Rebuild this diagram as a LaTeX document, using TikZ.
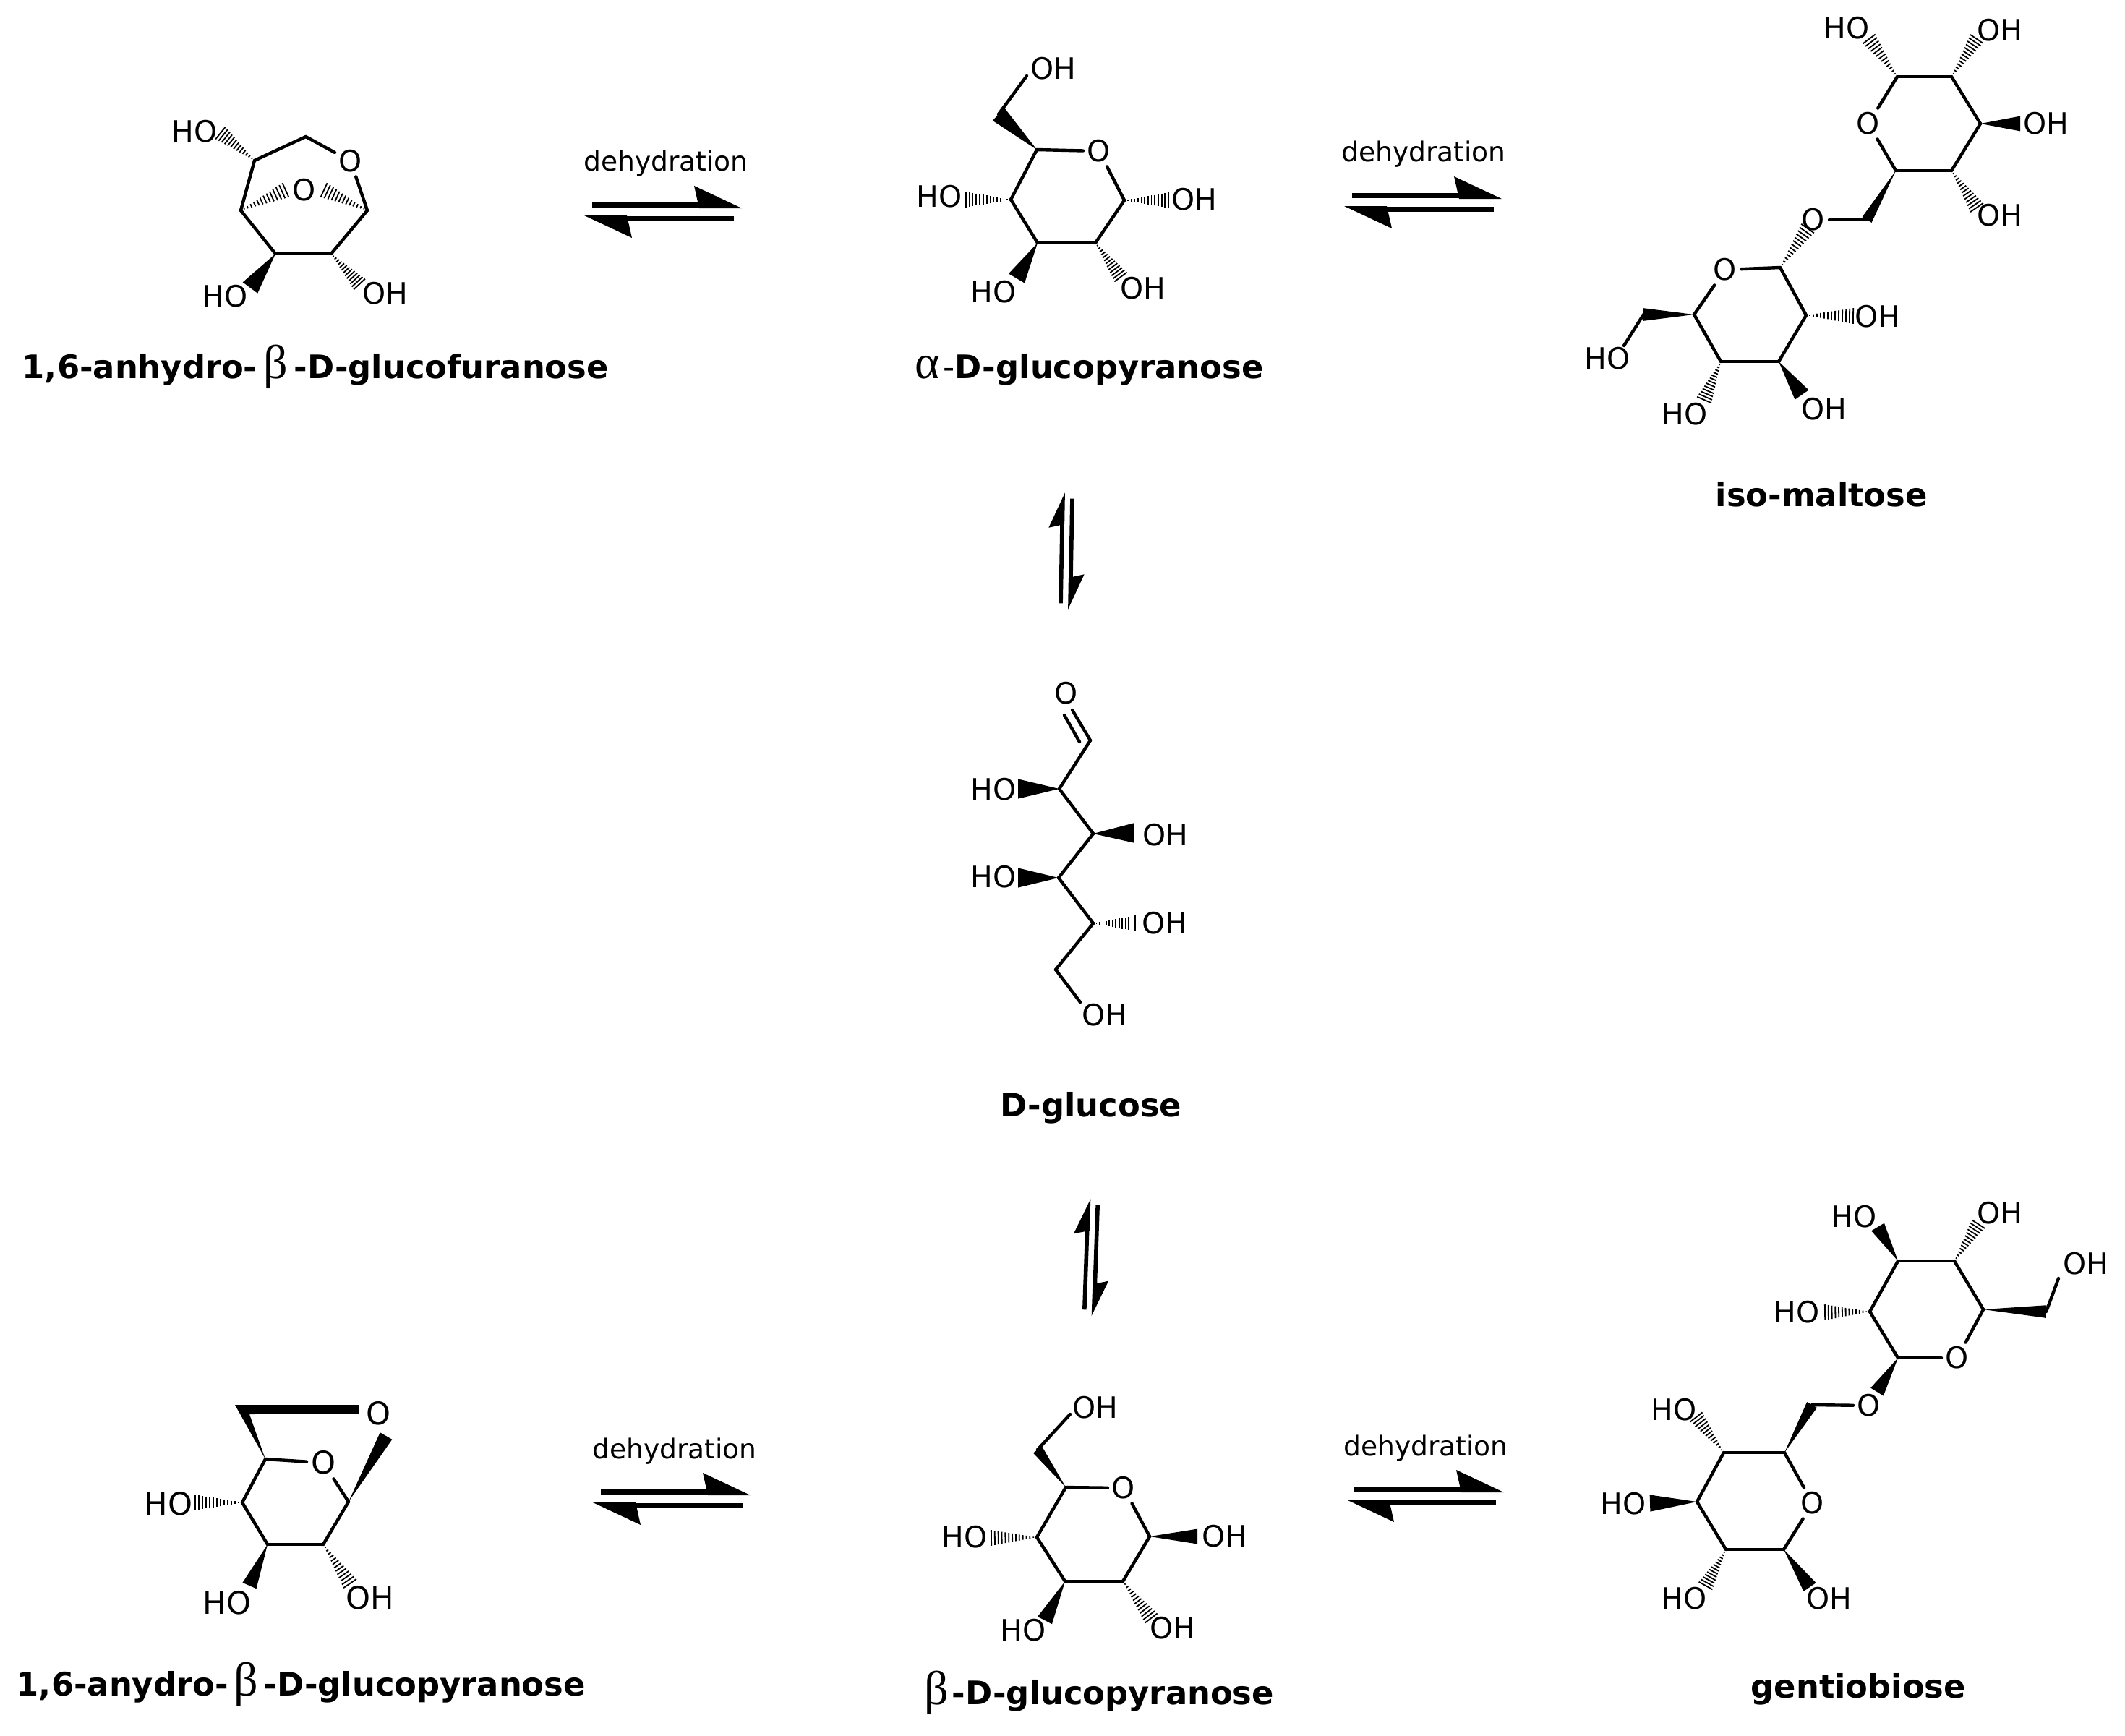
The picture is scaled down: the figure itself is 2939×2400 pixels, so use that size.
\documentclass[tikz,border=0pt]{standalone}
\usepackage{fontspec}
\setmainfont{DejaVu Sans}
\newfontfamily\greekfont{Liberation Serif}
\usetikzlibrary{calc}

\tikzset{
    atom/.style={inner sep=1.3pt, font=\fontsize{10.2}{12}\selectfont},
    bigatom/.style={atom, font=\fontsize{10.8}{12}\selectfont},
    bond/.style={line width=1.1pt, line cap=round},
    hashline/.style={line width=0.45pt},
    compound/.style={anchor=base west, inner sep=0pt, font=\fontsize{11.2}{13}\selectfont\bfseries},
    step label/.style={anchor=base, inner sep=0pt, font=\fontsize{9.4}{11}\selectfont},
    pics/eqarrow/.style={code={
        \coordinate (-ra) at (-98,-9.5);
        \coordinate (-rb) at (52,-9.5);
        \coordinate (-la) at (98,9.5);
        \coordinate (-lb) at (-52,9.5);
        \draw[line width=#1] (-ra) -- (-rb);
        \draw[line width=#1] (-la) -- (-lb);
        \fill (43,-36) -- (50,-5) -- (109,-5) -- cycle;
        \fill (-43,36) -- (-50,5) -- (-109,5) -- cycle;
    }},
    pics/eqarrow/.default=1.7pt,
}

% solid and hashed stereo bonds: [half width at the far end]{from}{to}
\newcommand{\wedgebond}[3][2.6pt]{\fill ($(#3)!#1!90:(#2)$) -- (#2) -- ($(#3)!#1!-90:(#2)$) -- cycle;}
\newcommand{\hashbond}[3][2.7]{%
    \foreach \t in {1,...,13} {
        \pgfmathsetmacro\hw{#1*\t/13}
        \coordinate (hm) at ($(#2)!\t/13!(#3)$);
        \draw[hashline] ($(hm)!\hw pt!90:(#2)$) -- ($(hm)!\hw pt!-90:(#2)$);
    }}
\newcommand{\greekmark}[2]{\makebox[#1][c]{\mdseries\greekfont\fontsize{16.5}{16}\selectfont #2}}

\begin{document}
\begin{tikzpicture}[x=0.25pt, y=-0.25pt]
    \useasboundingbox (0,0) rectangle (2939,2400);

    % 1,6-anhydro furanose
    \coordinate (fa1) at (508,291);
    \coordinate (fa2) at (458,351);
    \coordinate (fa3) at (381,351);
    \coordinate (fa4) at (333,291);
    \coordinate (fa5) at (352,222);
    \coordinate (fa6) at (423,189);
    \draw node[atom] (faor) at (485,223) {O};
    \draw node[atom] (faob) at (421,263) {O};
    \draw node[atom] (fah5) at (269,182) {HO};
    \draw node[atom] (fah3) at (311,410) {HO};
    \draw node[atom] (fah2) at (533,406) {OH};
    \path[bond] (fa5) edge (fa6) (fa6) edge (faor) (faor) edge (fa1)
        (fa1) edge (fa2) (fa2) edge (fa3) (fa3) edge (fa4) (fa4) edge (fa5);
    \coordinate (faw4) at (395,263);
    \coordinate (faw1) at (448,263);
    \coordinate (faw5) at (305,184);
    \coordinate (faw3) at (346,398);
    \coordinate (faw2) at (497,393);
    \hashbond{fa4}{faw4}
    \hashbond{fa1}{faw1}
    \hashbond{fa5}{faw5}
    \wedgebond[3.2pt]{fa3}{faw3}
    \hashbond{fa2}{faw2}
    \node[compound] (namefa) at (30,523) {1,6-anhydro-\greekmark{12.75pt}{β}-D-glucofuranose};

    % alpha pyranose
    \coordinate (ga1) at (1555,277);
    \coordinate (ga2) at (1515,336);
    \coordinate (ga3) at (1435,336);
    \coordinate (ga4) at (1398,276);
    \coordinate (ga5) at (1434,207);
    \coordinate (ga6) at (1381,158);
    \coordinate (gae6) at (1420,105);
    \draw node[atom] (gaor) at (1520,209) {O};
    \draw node[atom] (gah6) at (1457,95) {OH};
    \draw node[atom] (gah4) at (1299,272) {HO};
    \draw node[atom] (gah1) at (1652,276) {OH};
    \draw node[atom] (gah3) at (1374,404) {HO};
    \draw node[atom] (gah2) at (1581,399) {OH};
    \path[bond] (ga5) edge (gaor) (gaor) edge (ga1) (ga1) edge (ga2)
        (ga2) edge (ga3) (ga3) edge (ga4) (ga4) edge (ga5) (ga6) edge (gae6);
    \coordinate (gaw4) at (1336,276);
    \coordinate (gaw1) at (1616,277);
    \coordinate (gaw3) at (1406,385);
    \coordinate (gaw2) at (1550,383);
    \wedgebond[3pt]{ga5}{ga6}
    \hashbond{ga4}{gaw4}
    \hashbond{ga1}{gaw1}
    \wedgebond[3.2pt]{ga3}{gaw3}
    \hashbond{ga2}{gaw2}
    \node[compound] (namega) at (1260,523) {\greekmark{11pt}{α}{\mdseries -}D-glucopyranose};

    % iso-maltose
    \coordinate (im1) at (2624,106);
    \coordinate (im2) at (2699,106);
    \coordinate (im3) at (2739,171);
    \coordinate (im4) at (2699,236);
    \coordinate (im5) at (2622,236);
    \coordinate (im6) at (2582,304);
    \draw node[atom] (imor) at (2584,171) {O};
    \draw node[atom] (imol) at (2508,304) {O};
    \draw node[atom] (imh1) at (2554,39) {HO};
    \draw node[atom] (imh2) at (2766,42) {OH};
    \draw node[atom] (imh3) at (2830,171) {OH};
    \draw node[atom] (imh4) at (2766,298) {OH};
    \coordinate (imb1) at (2462,370);
    \coordinate (imb2) at (2498,436);
    \coordinate (imb3) at (2460,500);
    \coordinate (imb4) at (2380,500);
    \coordinate (imb5) at (2343,435);
    \coordinate (imb6) at (2273,435);
    \coordinate (ime6) at (2246,478);
    \draw node[atom] (imos) at (2386,373) {O};
    \draw node[atom] (imi2) at (2597,438) {OH};
    \draw node[atom] (imi3) at (2523,566) {OH};
    \draw node[atom] (imi4) at (2330,573) {HO};
    \draw node[atom] (imi6) at (2223,496) {HO};
    \path[bond] (im1) edge (im2) (im2) edge (im3) (im3) edge (im4) (im4) edge (im5)
        (im5) edge (imor) (imor) edge (im1) (im6) edge (imol)
        (imb1) edge (imb2) (imb2) edge (imb3) (imb3) edge (imb4) (imb4) edge (imb5)
        (imb5) edge (imos) (imos) edge (imb1) (imb6) edge (ime6);
    \coordinate (imw1) at (2585,54);
    \coordinate (imw2) at (2734,54);
    \coordinate (imw3) at (2794,171);
    \coordinate (imw4) at (2734,287);
    \coordinate (imwo) at (2500,316);
    \coordinate (imx2) at (2563,437);
    \coordinate (imx3) at (2492,546);
    \coordinate (imx4) at (2357,553);
    \hashbond{im1}{imw1}
    \hashbond{im2}{imw2}
    \wedgebond{im3}{imw3}
    \hashbond{im4}{imw4}
    \wedgebond[1.9pt]{im5}{im6}
    \hashbond{imb1}{imwo}
    \hashbond{imb2}{imx2}
    \wedgebond[2.9pt]{imb3}{imx3}
    \hashbond{imb4}{imx4}
    \wedgebond[2.2pt]{imb5}{imb6}
    \node[compound] (nameim) at (2372,700) {iso-maltose};

    % open chain glucose
    \coordinate (dg1) at (1508,1024);
    \coordinate (dg2) at (1465,1091);
    \coordinate (dg3) at (1512,1153);
    \coordinate (dg4) at (1464,1214);
    \coordinate (dg5) at (1512,1277);
    \coordinate (dg6) at (1460,1341);
    \coordinate (dge6) at (1494,1386);
    \coordinate (dgda) at (1483,982);
    \coordinate (dgdb) at (1472,989);
    \coordinate (dgdc) at (1493,1026);
    \draw node[atom] (dgox) at (1475,959) {O};
    \draw node[atom] (dgh2) at (1374,1092) {HO};
    \draw node[atom] (dgh3) at (1612,1155) {OH};
    \draw node[atom] (dgh4) at (1374,1213) {HO};
    \draw node[atom] (dgh5) at (1611,1277) {OH};
    \draw node[atom] (dgh6) at (1528,1404) {OH};
    \path[bond] (dgda) edge (dg1) (dgdb) edge (dgdc) (dg1) edge (dg2) (dg2) edge (dg3)
        (dg3) edge (dg4) (dg4) edge (dg5) (dg5) edge (dg6) (dg6) edge (dge6);
    \coordinate (dgw2) at (1408,1091);
    \coordinate (dgw3) at (1568,1152);
    \coordinate (dgw4) at (1408,1214);
    \coordinate (dgw5) at (1570,1277);
    \wedgebond[3.4pt]{dg2}{dgw2}
    \wedgebond[3.4pt]{dg3}{dgw3}
    \wedgebond[3.4pt]{dg4}{dgw4}
    \hashbond{dg5}{dgw5}
    \node[compound] (namedg) at (1383,1544) {D-glucose};

    % 1,6-anhydro pyranose
    \coordinate (ap1) at (482,2077);
    \coordinate (ap2) at (447,2136);
    \coordinate (ap3) at (370,2136);
    \coordinate (ap4) at (335,2078);
    \coordinate (ap5) at (367,2018);
    \draw node[bigatom] (apot) at (523,1955) {O};
    \draw node[bigatom] (apor) at (447,2023) {O};
    \draw node[bigatom] (aph4) at (233,2080) {HO};
    \draw node[bigatom] (aph3) at (314,2217) {HO};
    \draw node[bigatom] (aph2) at (512,2210) {OH};
    \path[bond] (ap5) edge (apor) (apor) edge (ap1) (ap1) edge (ap2)
        (ap2) edge (ap3) (ap3) edge (ap4) (ap4) edge (ap5);
    \coordinate (apc1) at (325,1943);
    \coordinate (apc2) at (496,1943);
    \coordinate (apc3) at (496,1955);
    \coordinate (apc4) at (345,1956);
    \fill (ap5) -- (apc1) -- (apc2) -- (apc3) -- (apc4) -- cycle;
    \coordinate (apw1) at (534,1986);
    \coordinate (apw4) at (270,2078);
    \coordinate (apw3) at (345,2193);
    \coordinate (apw2) at (484,2190);
    \wedgebond[2.4pt]{ap1}{apw1}
    \hashbond{ap4}{apw4}
    \wedgebond{ap3}{apw3}
    \hashbond{ap2}{apw2}
    \node[compound] (nameap) at (22,2345) {1,6-anydro-\greekmark{12.25pt}{β}-D-glucopyranose};

    % beta pyranose
    \coordinate (gb1) at (1590,2125);
    \coordinate (gb2) at (1553,2187);
    \coordinate (gb3) at (1473,2187);
    \coordinate (gb4) at (1434,2126);
    \coordinate (gb5) at (1474,2057);
    \coordinate (gb6) at (1435,2005);
    \coordinate (gbe6) at (1480,1956);
    \draw node[atom] (gbor) at (1554,2058) {O};
    \draw node[atom] (gbh6) at (1515,1947) {OH};
    \draw node[atom] (gbh4) at (1334,2126) {HO};
    \draw node[atom] (gbh1) at (1694,2125) {OH};
    \draw node[atom] (gbh3) at (1415,2255) {HO};
    \draw node[atom] (gbh2) at (1622,2252) {OH};
    \path[bond] (gb5) edge (gbor) (gbor) edge (gb1) (gb1) edge (gb2)
        (gb2) edge (gb3) (gb3) edge (gb4) (gb4) edge (gb5) (gb6) edge (gbe6);
    \coordinate (gbw4) at (1371,2127);
    \coordinate (gbw1) at (1656,2125);
    \coordinate (gbw3) at (1445,2241);
    \coordinate (gbw2) at (1592,2238);
    \wedgebond[1.9pt]{gb5}{gb6}
    \hashbond{gb4}{gbw4}
    \wedgebond{gb1}{gbw1}
    \wedgebond[2.8pt]{gb3}{gbw3}
    \hashbond{gb2}{gbw2}
    \node[compound] (namegb) at (1273,2357) {\greekmark{10.75pt}{β}-D-glucopyranose};

    % gentiobiose
    \coordinate (gt1) at (2625,1744);
    \coordinate (gt2) at (2703,1744);
    \coordinate (gt3) at (2743,1811);
    \coordinate (gt4) at (2586,1814);
    \coordinate (gt5) at (2625,1878);
    \coordinate (gt6) at (2830,1814);
    \coordinate (gte6) at (2847,1768);
    \draw node[atom] (gtor) at (2707,1878) {O};
    \draw node[atom] (gtol) at (2585,1944) {O};
    \draw node[atom] (gth1) at (2564,1683) {HO};
    \draw node[atom] (gth2) at (2766,1678) {OH};
    \draw node[atom] (gth6) at (2885,1748) {OH};
    \draw node[atom] (gth4) at (2485,1815) {HO};
    \coordinate (gtb1) at (2467,2143);
    \coordinate (gtb2) at (2387,2143);
    \coordinate (gtb3) at (2347,2077);
    \coordinate (gtb4) at (2384,2009);
    \coordinate (gtb5) at (2468,2009);
    \coordinate (gtb6) at (2506,1943);
    \draw node[atom] (gtos) at (2507,2079) {O};
    \draw node[atom] (gti4) at (2315,1950) {HO};
    \draw node[atom] (gti3) at (2245,2080) {HO};
    \draw node[atom] (gti2) at (2329,2211) {HO};
    \draw node[atom] (gti1) at (2530,2211) {OH};
    \path[bond] (gt1) edge (gt2) (gt2) edge (gt3) (gt3) edge (gtor) (gtor) edge (gt5)
        (gt5) edge (gt4) (gt4) edge (gt1) (gt6) edge (gte6) (gtb6) edge (gtol)
        (gtb5) edge (gtos) (gtos) edge (gtb1) (gtb1) edge (gtb2) (gtb2) edge (gtb3)
        (gtb3) edge (gtb4) (gtb4) edge (gtb5);
    \coordinate (gtw1) at (2597,1697);
    \coordinate (gtw2) at (2736,1693);
    \coordinate (gtw4) at (2524,1815);
    \coordinate (gtw5) at (2596,1925);
    \coordinate (gtx4) at (2346,1960);
    \coordinate (gtx3) at (2282,2079);
    \coordinate (gtx2) at (2359,2193);
    \coordinate (gtx1) at (2503,2195);
    \wedgebond{gt1}{gtw1}
    \hashbond{gt2}{gtw2}
    \wedgebond[2.2pt]{gt3}{gt6}
    \hashbond{gt4}{gtw4}
    \wedgebond{gt5}{gtw5}
    \wedgebond[2pt]{gtb5}{gtb6}
    \hashbond{gtb4}{gtx4}
    \wedgebond[2.9pt]{gtb3}{gtx3}
    \hashbond{gtb2}{gtx2}
    \wedgebond{gtb1}{gtx1}
    \node[compound] (namegt) at (2421,2348) {gentiobiose};

    % equilibrium arrows
    \pic (eqa) at (917,293) {eqarrow};
    \pic (eqb) at (1968,280) {eqarrow};
    \pic (eqc) at (929,2073) {eqarrow};
    \pic (eqd) at (1971,2069) {eqarrow};
    \pic[rotate=89, xscale=.74, yscale=.7] (eqe) at (1475,762) {eqarrow=1.4pt};
    \pic[rotate=88, xscale=.74, yscale=.7] (eqf) at (1509,1739) {eqarrow=1.4pt};
    \node[step label] (stepa) at (921,236) {dehydration};
    \node[step label] (stepb) at (1969,223) {dehydration};
    \node[step label] (stepc) at (933,2017) {dehydration};
    \node[step label] (stepd) at (1972,2013) {dehydration};
\end{tikzpicture}
\end{document}
